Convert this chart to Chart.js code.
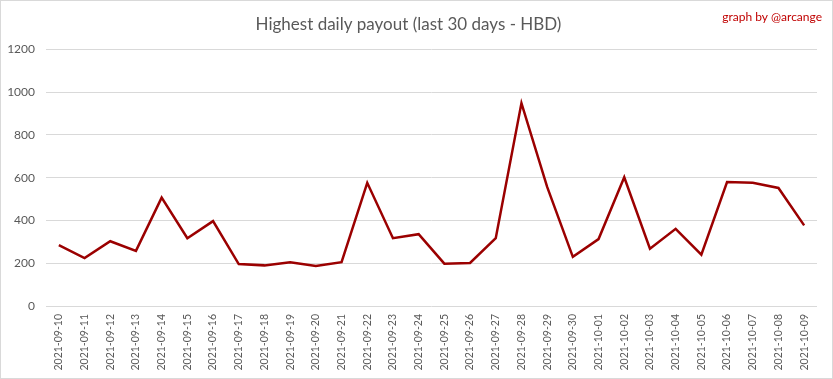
<!DOCTYPE html>
<html>
<head>
<meta charset="utf-8">
<script src="https://cdn.jsdelivr.net/npm/chart.js@4"></script>
<style>
html,body{margin:0;padding:0;background:#fff;}
#wrap{position:relative;width:833px;height:379px;}
canvas{display:block;}
</style>
</head>
<body>
<div id="wrap"><canvas id="c" width="833" height="379"></canvas></div>
<script>
const categories = ["2021-09-10","2021-09-11","2021-09-12","2021-09-13","2021-09-14","2021-09-15","2021-09-16","2021-09-17","2021-09-18","2021-09-19","2021-09-20","2021-09-21","2021-09-22","2021-09-23","2021-09-24","2021-09-25","2021-09-26","2021-09-27","2021-09-28","2021-09-29","2021-09-30","2021-10-01","2021-10-02","2021-10-03","2021-10-04","2021-10-05","2021-10-06","2021-10-07","2021-10-08","2021-10-09"];
const payouts = [285,224,303,258,507,317,397,196,190,205,187,205,576,317,336,198,201,317,949,557,230,313,602,268,361,240,580,576,552,377];
const yTicks = [0,200,400,600,800,1000,1200];
const titleText = "Highest daily payout (last 30 days - HBD)";
const creditText = "graph by @arcange";

const FONT = "Lato, 'Open Sans', sans-serif";

const decor = {
  id: 'decor',
  afterDraw(chart) {
    const ctx = chart.ctx;
    ctx.save();
    ctx.strokeStyle = '#d9d9d9';
    ctx.lineWidth = 1;
    ctx.strokeRect(0.5, 0.5, 832, 378);
    ctx.fillStyle = '#c00000';
    ctx.font = "12px " + FONT;
    ctx.textAlign = 'right';
    ctx.textBaseline = 'middle';
    ctx.fillText(creditText, 822, 17);
    ctx.restore();
  }
};

new Chart(document.getElementById('c'), {
  type: 'line',
  data: {
    labels: categories,
    datasets: [{
      data: payouts,
      borderColor: '#9b0000',
      borderWidth: 2.5,
      pointRadius: 0,
      tension: 0,
      fill: false
    }]
  },
  options: {
    responsive: false,
    animation: false,
    layout: { padding: { left: 0, right: 16, top: 0, bottom: 6 } },
    plugins: {
      legend: { display: false },
      tooltip: { enabled: false },
      title: {
        display: true,
        text: titleText,
        color: '#595959',
        font: { family: FONT, size: 17, weight: 'normal' },
        padding: { top: 14, bottom: 15 }
      }
    },
    scales: {
      x: {
        type: 'category',
        offset: true,
        grid: { display: false, drawTicks: false },
        border: { display: false },
        ticks: {
          color: '#595959',
          font: { family: FONT, size: 10.5 },
          minRotation: 90, maxRotation: 90,
          autoSkip: false,
          padding: 8
        },
        afterFit(s) { s.height = 67; }
      },
      y: {
        min: 0, max: 1200,
        afterBuildTicks(s) { s.ticks = yTicks.map(v => ({ value: v })); },
        grid: { color: '#d9d9d9', lineWidth: 1, drawTicks: false },
        border: { display: false },
        ticks: {
          color: '#595959',
          font: { family: FONT, size: 12 },
          padding: 11,
          callback: (v) => String(v)
        },
        afterFit(s) { s.width = 46; }
      }
    }
  },
  plugins: [decor]
});
</script>
</body>
</html>
